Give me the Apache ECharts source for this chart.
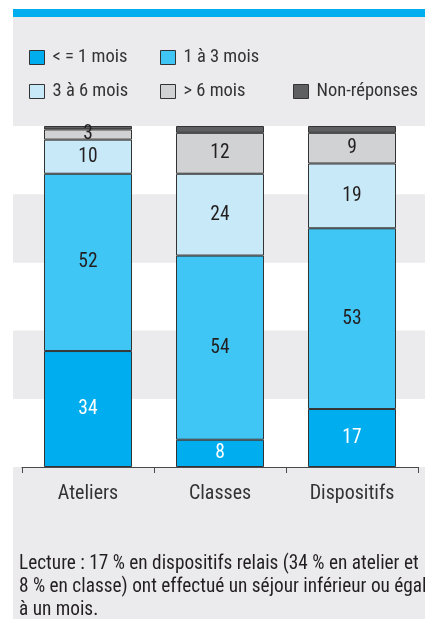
<!DOCTYPE html>
<html>
<head>
<meta charset="utf-8">
<script src="https://cdn.jsdelivr.net/npm/echarts@6/dist/echarts.min.js"></script>
<style>
  html, body { margin: 0; padding: 0; background: #ffffff; }
  #chart { width: 425px; height: 619px; }
</style>
</head>
<body>
<div id="chart"></div>
<script>
// Durée du séjour selon le type de dispositif (en %)
const categories = ['Ateliers', 'Classes', 'Dispositifs'];
const seriesNames = ['< = 1 mois', '1 à 3 mois', '3 à 6 mois', '> 6 mois', 'Non-réponses'];
const upToOneMonth = [34, 8, 17];
const oneToThreeMonths = [52, 54, 53];
const threeToSixMonths = [10, 24, 19];
const overSixMonths = [3, 12, 9];
const noAnswer = [1, 2, 2];
const valueTicks = [0, 20, 40, 60, 80, 100];
const noteLines = [
  'Lecture : 17 % en dispositifs relais (34 % en atelier et',
  '8 % en classe) ont effectué un séjour inférieur ou égal',
  'à un mois.'
];

const FONT = "'Roboto Condensed', 'Liberation Sans Narrow', 'DejaVu Sans Condensed', sans-serif";
const INK = '#231f20';
const PANEL = '#ebebee';
const colors = ['#00aeef', '#40c6f4', '#c8e9f8', '#d1d2d4', '#5e5f61'];
const values = [upToOneMonth, oneToThreeMonths, threeToSixMonths, overSixMonths, noAnswer];

const chart = echarts.init(document.getElementById('chart'), null, { renderer: 'canvas' });

const legendSlots = [
  { left: 29, top: 48 },
  { left: 160, top: 48 },
  { left: 29, top: 82 },
  { left: 160, top: 82 },
  { left: 293, top: 82 }
];

const legends = seriesNames.map((name, i) => ({
  data: [name],
  left: legendSlots[i].left,
  top: legendSlots[i].top,
  padding: 0,
  itemWidth: 15,
  itemHeight: 14,
  icon: 'rect',
  selectedMode: false,
  itemStyle: { borderColor: '#333333', borderWidth: 1 },
  textStyle: { fontFamily: FONT, fontSize: 18.5, color: '#333333', padding: [0, 0, 0, 3] }
}));

const series = seriesNames.map((name, i) => ({
  name: name,
  type: 'bar',
  stack: 'total',
  xAxisIndex: 1,
  yAxisIndex: 1,
  barWidth: 88,
  data: values[i],
  itemStyle: { color: colors[i], borderColor: '#333333', borderWidth: 1 },
  label: {
    show: i < 4,
    position: 'inside',
    fontFamily: FONT,
    fontSize: 19.5,
    color: i === 0 ? '#ffffff' : INK
  }
}));

chart.setOption({
  animation: false,
  backgroundColor: '#ffffff',
  color: colors,
  graphic: [
    { type: 'rect', z: -100, shape: { x: 13, y: 17, width: 412, height: 602 }, style: { fill: PANEL } },
    { type: 'rect', z: -100, shape: { x: 13, y: 9, width: 412, height: 8 }, style: { fill: '#00aeef' } },
    {
      type: 'text', z: 10, left: 19, top: 553,
      style: {
        text: noteLines.join('\n'),
        fontFamily: FONT, fontSize: 19.3, lineHeight: 22.8, fill: INK
      }
    }
  ],
  legend: legends,
  grid: [
    { left: 13, right: 0, top: 126, bottom: 152 },
    { left: 22, right: 7, top: 126, bottom: 152 }
  ],
  xAxis: [
    { type: 'category', gridIndex: 0, data: categories, show: false },
    {
      type: 'category', gridIndex: 1, data: categories,
      axisLine: { lineStyle: { color: '#4a4a4c', width: 1 } },
      axisTick: { show: true, length: 6, lineStyle: { color: '#4a4a4c' } },
      axisLabel: { fontFamily: FONT, fontSize: 20, color: '#333333', margin: 17 }
    }
  ],
  yAxis: [
    {
      type: 'value', gridIndex: 0, min: valueTicks[0], max: valueTicks[valueTicks.length - 1], interval: 20,
      axisLine: { show: false }, axisTick: { show: false }, axisLabel: { show: false },
      splitLine: { show: false },
      splitArea: { show: true, areaStyle: { color: ['#ffffff', PANEL] } }
    },
    {
      type: 'value', gridIndex: 1, min: valueTicks[0], max: valueTicks[valueTicks.length - 1], interval: 20,
      show: false, splitLine: { show: false }
    }
  ],
  series: series
});
</script>
</body>
</html>
